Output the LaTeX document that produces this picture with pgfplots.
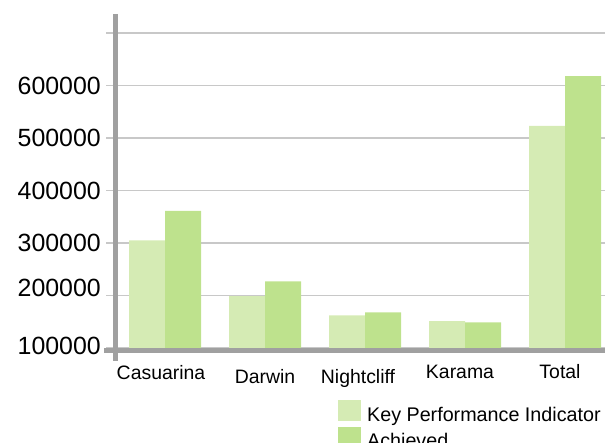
\documentclass[border=0pt]{standalone}
\usepackage{fontspec}
\setmainfont{Liberation Sans}
\usepackage{pgfplots}
\pgfplotsset{compat=1.18}
\definecolor{kpi}{RGB}{213,235,180}
\definecolor{ach}{RGB}{190,226,141}
\definecolor{axgray}{RGB}{160,160,160}
\definecolor{gridgray}{RGB}{200,200,200}
\begin{document}
\begin{tikzpicture}[x=1bp,y=1bp]
\path[use as bounding box, clip] (0,0) rectangle (605,443);
\begin{axis}[
  at={(115bp,95bp)}, anchor=south west,
  scale only axis, width=490bp, height=334bp,
  xmin=-0.5, xmax=4.4, ymin=100000, ymax=736190,
  ybar=0pt, bar width=36bp,
  xtick={0,1,2,3,4},
  xticklabels={\raisebox{4bp}{Casuarina\kern8bp},Darwin,Nightcliff\kern14bp,\raisebox{4.5bp}{Karama\kern10bp},\raisebox{4.5bp}{Total\kern10bp}},
  ytick={100000,200000,300000,400000,500000,600000,700000},
  yticklabels={\raisebox{2.5bp}{100000},\raisebox{8bp}{200000},300000,400000,500000,600000,{}},
  scaled y ticks=false,
  axis line style={draw=none},
  ymajorgrids, grid style={gridgray, line width=1.5bp},
  tick align=outside, major tick length=9bp,
  ytick style={gridgray, line width=1.5bp}, xtick style={draw=none},
  yticklabel style={font=\fontsize{25}{28}\selectfont, anchor=base east, inner sep=0pt, xshift=-5bp, yshift=-9bp},
  xticklabel style={font=\fontsize{19.5}{22}\selectfont, inner sep=0pt, anchor=base, yshift=-26.5bp},
  clip=false,
  legend style={at={(0.455,-0.1557)}, anchor=north west, draw=none, fill=none, inner sep=0pt,
    font=\fontsize{19.8}{23}\selectfont, row sep=2bp, cells={anchor=west}},
  legend image code/.code={\fill[#1] (0bp,-6.5bp) rectangle (23bp,14.5bp); \path (27bp,0bp);},
]
\addplot[fill=kpi, draw=none] coordinates {(0,305000) (1,199000) (2,162000) (3,151000) (4,523000)};
\addplot[fill=ach, draw=none] coordinates {(0,361000) (1,227000) (2,168000) (3,149000) (4,618000)};
\legend{Key Performance Indicator, Achieved}
\draw[axgray, line width=5bp] (rel axis cs:0,1) -- (rel axis cs:0,-0.039);
\draw[axgray, line width=5bp] (rel axis cs:-0.0224,-0.0075) -- (rel axis cs:1,-0.0075);
\end{axis}
\end{tikzpicture}
\end{document}
